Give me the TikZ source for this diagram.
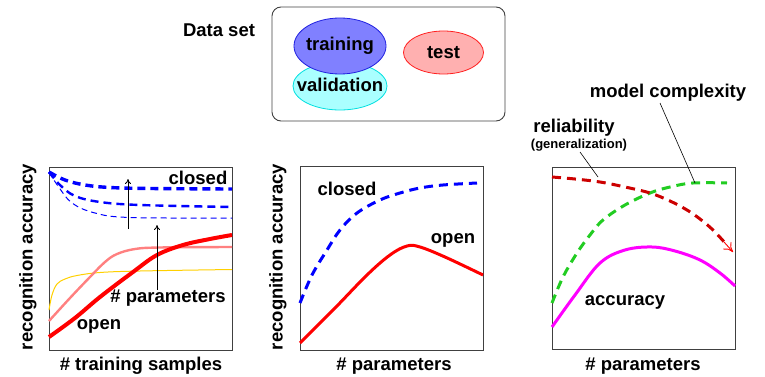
\documentclass[tikz,border=0pt]{standalone}
\usepackage{fontspec}
\setmainfont{Liberation Sans}
\usetikzlibrary{arrows.meta,shapes.geometric}
\definecolor{trainfill}{HTML}{8080FF}
\definecolor{trainline}{HTML}{2020E0}
\definecolor{valfill}{HTML}{AAFFFF}
\definecolor{valline}{HTML}{00E0E0}
\definecolor{testfill}{HTML}{FFB0B0}
\definecolor{testline}{HTML}{FF2020}
\definecolor{purered}{HTML}{FF0000}
\definecolor{pureblue}{HTML}{0000FF}
\definecolor{pinkcurve}{HTML}{FF8080}
\definecolor{yellowcurve}{HTML}{FFD000}
\definecolor{darkred}{HTML}{CC0000}
\definecolor{greencurve}{HTML}{22CC22}
\definecolor{purplecurve}{HTML}{FF00FF}
\definecolor{framegray}{HTML}{404040}
\begin{document}
\begin{tikzpicture}[x=1pt,y=-1pt,
  lbl/.style={font=\bfseries\fontsize{18.5}{21}\selectfont, inner sep=0pt},
  smalllbl/.style={font=\bfseries\fontsize{13}{15}\selectfont, inner sep=0pt},
  panel/.style={draw=framegray, line width=0.9pt},
  setell/.style={ellipse, inner sep=0pt, line width=0.8pt},
  dthick/.style={line width=3.4pt, dash pattern=on 8pt off 5pt},
  dmed/.style={line width=2.4pt, dash pattern=on 8pt off 5pt},
  dthin/.style={line width=1pt, dash pattern=on 6pt off 4pt},
  growarrow/.style={line width=0.8pt, -{To[length=5pt,width=6pt]}},
  leader/.style={line width=0.6pt},
]
\useasboundingbox (0,0) rectangle (765,377);

% ---------- data set ----------
\node[lbl] (dslabel) at (219,30) {Data set};
\draw[panel, rounded corners=9pt] (272,7) rectangle (505,121);
\node[setell, draw=valline, fill=valfill, minimum width=94pt, minimum height=48pt] (val) at (340,86) {};
\node[setell, draw=trainline, fill=trainfill, minimum width=92pt, minimum height=56pt] (train) at (340,46) {};
\node[setell, draw=testline, fill=testfill, minimum width=80pt, minimum height=43pt] (test) at (443.5,52.5) {};
\node[lbl] (valtext) at (val.center) [yshift=1pt] {validation};
\node[lbl] (traintext) at (train.center) {training};
\node[lbl] (testtext) at (test.center) {test};

% ---------- panel 1: accuracy vs. training samples ----------
\draw[panel] (49,167) rectangle (232,350);
\node[lbl, rotate=90] (ylab1) at (28,257) {recognition accuracy};
\node[lbl] (xlab1) at (141,366) {\# training samples};

\draw[pureblue, dthick] plot[smooth, tension=0.6] coordinates {(49,172) (65,180) (85,185) (110,187.5) (150,188.5) (232,189)};
\draw[pureblue, dmed] plot[smooth, tension=0.6] coordinates {(49,172) (60,185) (75,196) (100,202) (140,205) (232,207)};
\draw[pureblue, dthin] plot[smooth, tension=0.6] coordinates {(49,172) (58,186) (72,203) (95,213) (130,217.5) (232,218)};

\draw[yellowcurve, line width=1pt] plot[smooth, tension=0.6] coordinates {(49,310) (52,295) (57,284) (65,279) (77,275.5) (100,272.5) (140,271) (232,269.5)};
\draw[pinkcurve, line width=2.4pt] plot[smooth, tension=0.6] coordinates {(49,321) (70,298) (90,277) (105,262) (117,254) (135,249) (160,247.5) (232,247)};
\draw[purered, line width=4pt] plot[smooth, tension=0.6] coordinates {(49,337) (75,318) (100,297) (133,272) (157,255) (183,245) (210,239) (232,235)};

\node[lbl] (closed1) at (198,178) {closed};
\node[lbl] (open1) at (99,326) {open};
\node[lbl] (param1) at (168,298) {\# parameters};

\coordinate (arrA0) at (128,229);
\coordinate (arrA1) at (128,179);
\coordinate (arrB1) at (157,225);
\draw[growarrow] (arrA0) -- (arrA1);
\draw[growarrow] (param1.north -| arrB1) -- (arrB1);

% ---------- panel 2: accuracy vs. parameters ----------
\draw[panel] (300,166) rectangle (483,350);
\node[lbl, rotate=90] (ylab2) at (278,257) {recognition accuracy};
\node[lbl] (xlab2) at (394,366) {\# parameters};

\draw[pureblue, line width=3pt, dash pattern=on 9pt off 6pt] plot[smooth, tension=0.6] coordinates {(300,303) (312,275) (327,250) (340,230) (357,213) (380,200) (400,193) (420,188) (443,185) (477,183)};
\draw[purered, line width=3pt] plot[smooth, tension=0.6] coordinates {(300,343) (335,308) (367,275) (390,255) (407,246) (420,247) (445,257) (483,275)};

\node[lbl] (closed2) at (347,189) {closed};
\node[lbl] (open2) at (453,240) {open};

% ---------- panel 3: reliability vs. complexity ----------
\draw[panel] (552,167) rectangle (735,349);
\node[lbl] (xlab3) at (643,366) {\# parameters};

\draw[greencurve, line width=3pt, dash pattern=on 9pt off 6pt] plot[smooth, tension=0.6] coordinates {(552,303) (563,277) (577,253) (590,235) (603,220) (625,205) (650,193) (670,187) (693,183) (727,183)};
\draw[darkred, line width=3pt, dash pattern=on 9pt off 6pt] plot[smooth, tension=0.6] coordinates {(552,177) (575,179) (600,182) (625,187) (650,193) (670,201) (687,210) (700,219) (713,230) (726,244)};
\coordinate (relend) at (724,242);
\coordinate (reltip) at (733,252);
\draw[purered, line width=0.9pt, -{To[length=9pt,width=11pt]}] (relend) -- (reltip);
\draw[purplecurve, line width=3pt] plot[smooth, tension=0.6] coordinates {(552,327) (575,295) (600,263) (625,250) (652,247) (675,251) (700,260) (720,273) (735,286)};

\node[lbl] (acc) at (625,302) {accuracy};
\node[lbl] (mc) at (668,93) {model complexity};
\node[lbl] (rel) at (574,128) {reliability};
\node[smalllbl] (gen) at (579,145) {(generalization)};

\coordinate (mcfoot) at (660,103);
\coordinate (mcpt) at (695,183);
\coordinate (genfoot) at (580,152);
\coordinate (relpt) at (598,177);
\draw[leader] (mcfoot) -- (mcpt);
\draw[leader] (genfoot) -- (relpt);
\end{tikzpicture}
\end{document}
